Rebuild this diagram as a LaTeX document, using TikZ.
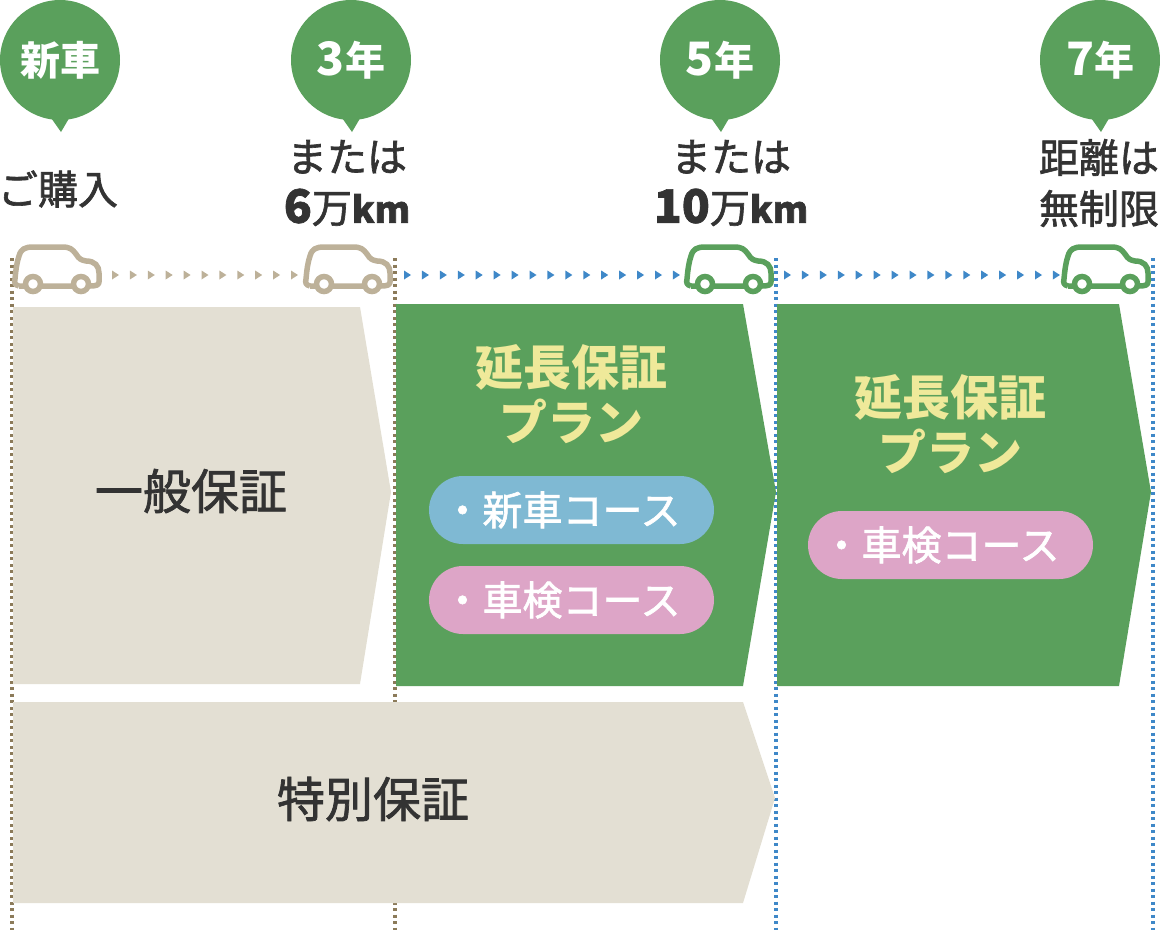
\documentclass[tikz,border=0pt]{standalone}
\usepackage{fontspec}
\setmainfont{Noto Sans CJK JP}
\newfontfamily\medfont[RawFeature={embolden=1.6}]{Noto Sans CJK JP}
\usepackage{tikz}
\usetikzlibrary{positioning}
\definecolor{leaf}{HTML}{5AA05C}
\definecolor{sand}{HTML}{E3DFD3}
\definecolor{khaki}{HTML}{BDB199}
\definecolor{bark}{HTML}{8C7B5A}
\definecolor{sky}{HTML}{3F88C8}
\definecolor{ink}{HTML}{333333}
\definecolor{lemon}{HTML}{EFE99A}
\definecolor{aqua}{HTML}{7FB9D3}
\definecolor{rose}{HTML}{DDA5C7}
\newcommand{\bignum}[1]{{\fontsize{46}{51}\selectfont\bfseries #1}}
\newcommand{\unitkm}{{\fontsize{36}{51}\selectfont\bfseries km}}
\tikzset{
  car/.pic={
    \draw[line width=5.5pt, #1, line join=round] (19,286) .. controls (15,285) and (14,283) .. (15,279)
      .. controls (16,268) and (17,262) .. (19,256) .. controls (21,249) and (25,247) .. (33,247)
      -- (62,247) .. controls (70,247) and (72,249) .. (76,254) .. controls (79,259) and (81,260) .. (86,261)
      .. controls (95,261) and (99,266) .. (99,273) -- (99,282) .. controls (99,285) and (96,286) .. (90,286)
      -- (19,286);
    \draw[line width=5.5pt, #1, fill=white] (33,284) circle (7.5) (81,284) circle (7.5);
  }
}
\begin{document}
\begin{tikzpicture}[x=1pt, y=-1pt, thick,
  main node/.style={circle, fill=leaf, minimum size=120pt, inner sep=0pt, text=white, font=\fontsize{40}{40}\selectfont\bfseries},
  label node/.style={text=ink, inner sep=0pt, align=center, font=\fontsize{40}{51}\selectfont\medfont},
  title node/.style={text=ink, inner sep=0pt, font=\fontsize{48}{48}\selectfont\medfont},
  plan node/.style={text=lemon, inner sep=0pt, font=\fontsize{48}{48}\selectfont\bfseries},
  pill node/.style={rounded corners=34pt, minimum width=285pt, minimum height=68pt, inner sep=0pt, text=white, font=\fontsize{40}{40}\selectfont\medfont},
  dot line/.style={line width=4pt, dash pattern=on 3pt off 3.5pt}]
\useasboundingbox (0,0) rectangle (1160,930);

% dotted lines
\draw[dot line, bark] (12,258) -- (12,930);
\draw[dot line, bark] (394.5,258) -- (394.5,930);
\draw[dot line, sky] (775.5,258) -- (775.5,930);
\draw[dot line, sky] (1153,258) -- (1153,930);

% small arrows
\foreach \x in {0,...,10}
  \fill[khaki] (112+17.9*\x,270.5) -- (119+17.9*\x,275) -- (112+17.9*\x,279.5) -- cycle;
\foreach \x in {0,...,15}
  \fill[sky] (404+17.93*\x,270.5) -- (411+17.93*\x,275) -- (404+17.93*\x,279.5) -- cycle;
\foreach \x in {0,...,15}
  \fill[sky] (784+17.93*\x,270.5) -- (791+17.93*\x,275) -- (784+17.93*\x,279.5) -- cycle;

% cars
\pic at (0,0) {car=khaki};
\pic at (291,0) {car=khaki};
\pic at (672,0) {car=leaf};
\pic at (1049,0) {car=leaf};

% arrow blocks
\fill[sand] (13,307) -- (360,307) -- (391,492) -- (360,684) -- (13,684) -- cycle;
\fill[leaf] (396,304) -- (743,304) -- (776,492) -- (743,686) -- (396,686) -- cycle;
\fill[leaf] (777,304) -- (1119,304) -- (1151,492) -- (1119,686) -- (777,686) -- cycle;
\fill[sand] (13,702) -- (743,702) -- (775,798) -- (743,903) -- (13,903) -- cycle;

% bubbles
\foreach \x/\name/\txt in {60/new/新車, 351/three/{\bignum{3}年}, 720/five/{\bignum{5}年}, 1100/seven/{\bignum{7}年}} {
  \fill[leaf] (\x-11,115) -- (\x+1,132) -- (\x+11,115) -- cycle;
  \node[main node] (\name) at (\x,60) {\txt};
}

\node[label node] (buy) at (58,189) {ご購入};
\node[label node] (six) at (347,183) {または\\\bignum{6}万\unitkm};
\node[label node] (ten) at (731,183) {または\\\bignum{10}万\unitkm};
\node[label node] (free) at (1099,183) {距離は\\無制限};

\node[title node] (general) at (191,491) {一般保証};
\node[title node] (special) at (373,799) {特別保証};

\node[plan node] (plan a) at (571,367) {延長保証};
\node[plan node] (plan b) [below=8pt of plan a] {プラン};
\node[plan node] (plan c) at (950,397) {延長保証};
\node[plan node] (plan d) [below=8pt of plan c] {プラン};

\node[pill node, fill=aqua] (course a) at (571.5,510) {・新車コース\hspace*{20pt}};
\node[pill node, fill=rose] (course b) at (571.5,600) {・車検コース\hspace*{20pt}};
\node[pill node, fill=rose] (course c) at (950.5,545) {・車検コース\hspace*{20pt}};

\end{tikzpicture}
\end{document}
